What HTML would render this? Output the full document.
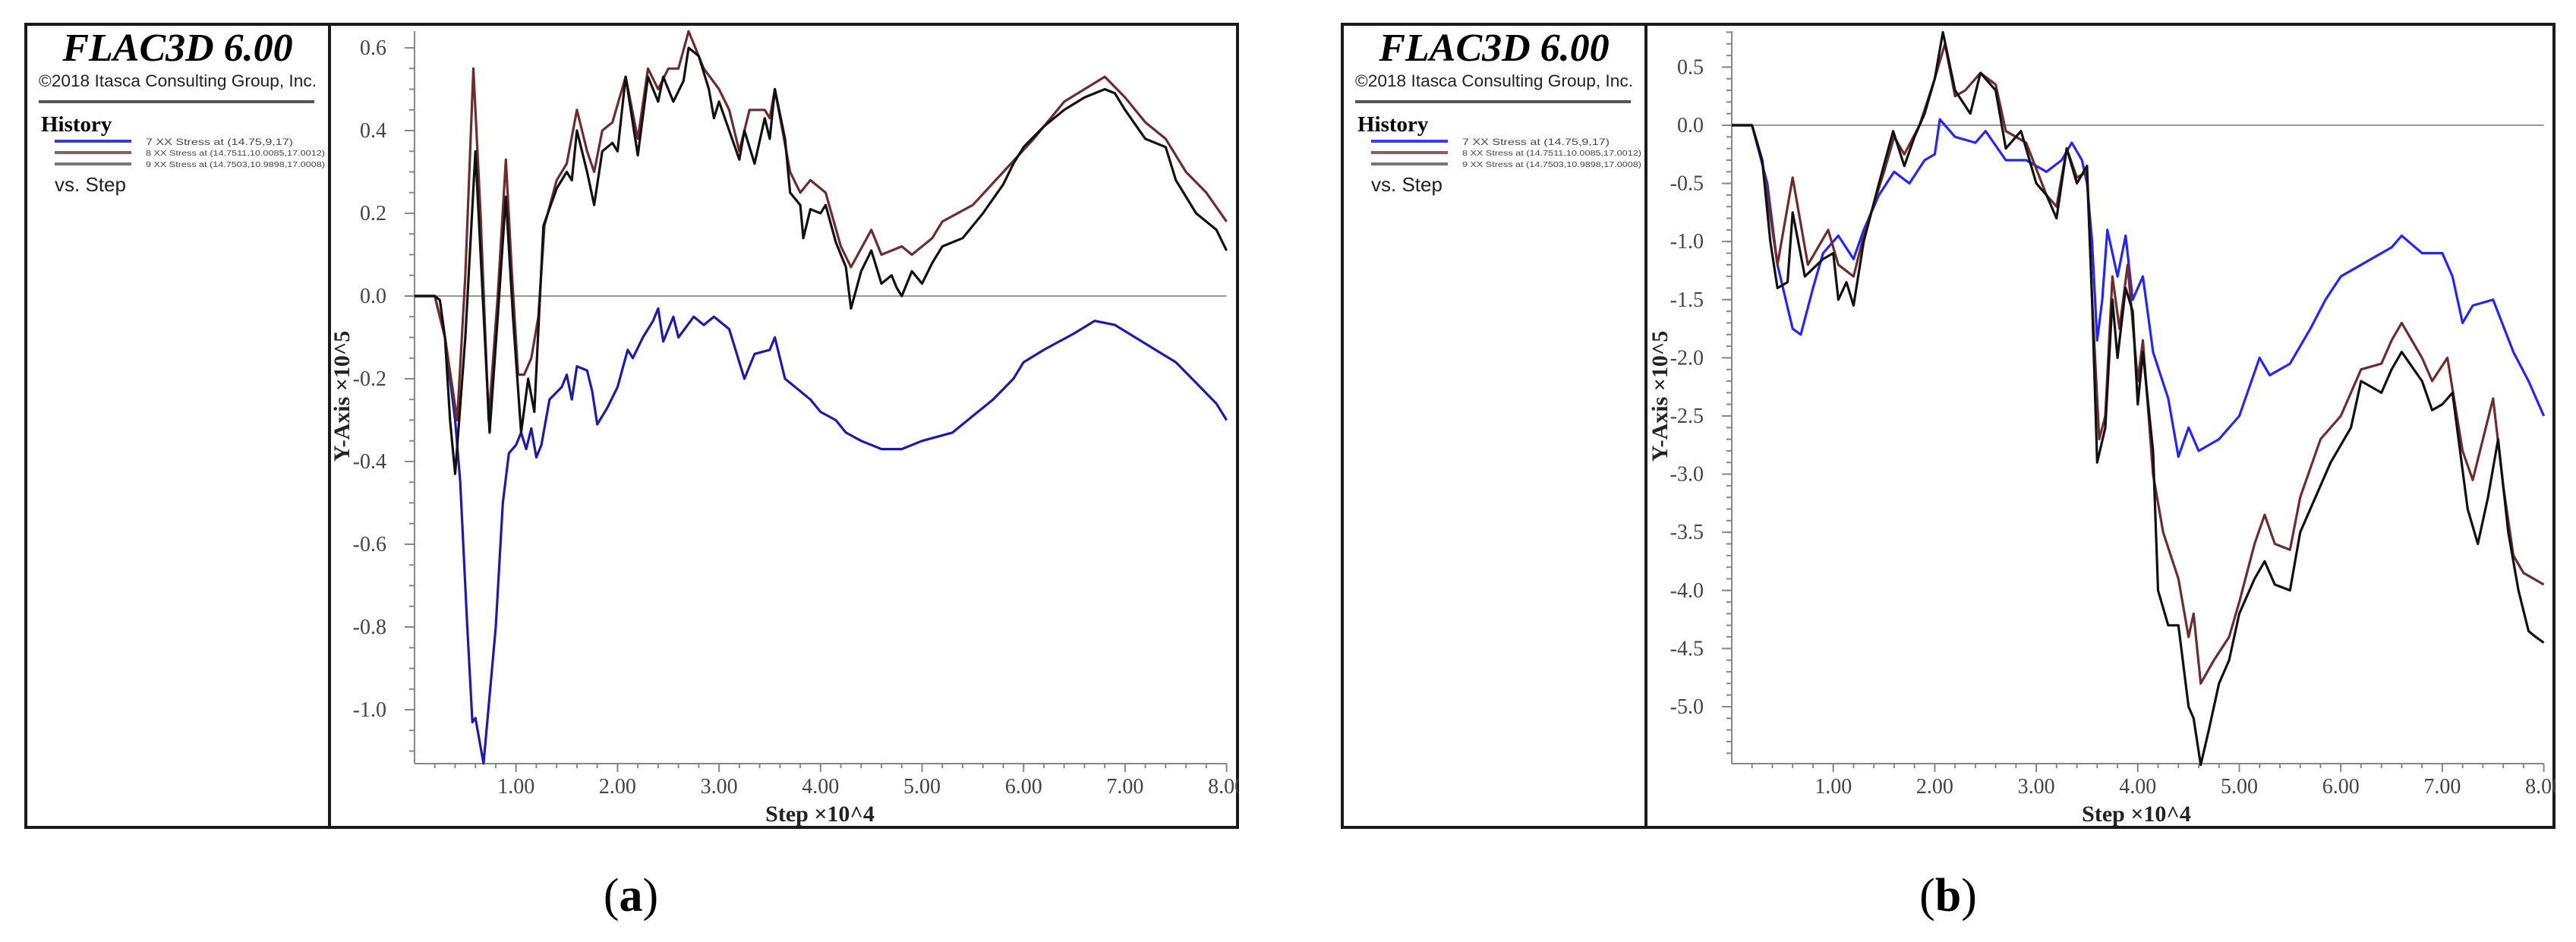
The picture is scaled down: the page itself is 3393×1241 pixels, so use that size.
<!DOCTYPE html>
<html><head><meta charset="utf-8"><style>
html,body{margin:0;padding:0;background:#fff;}
svg{display:block;}
text{font-family:"Liberation Serif",serif;}
.sans{font-family:"Liberation Sans",sans-serif;}
</style></head><body>
<svg id="fig" xmlns="http://www.w3.org/2000/svg" width="3393" height="1241" viewBox="0 0 3393 1241"></svg>
<script>
// ---------- Panel (a) data (Step x10^4, value x10^5) ----------
const aBlueSteps=[0,0.2,0.3,0.4,0.45,0.52,0.57,0.6,0.68,0.8,0.87,0.93,1.0,1.05,1.1,1.15,1.2,1.25,1.33,1.45,1.5,1.55,1.6,1.7,1.75,1.8,1.9,2.0,2.1,2.15,2.25,2.35,2.4,2.45,2.55,2.6,2.75,2.85,2.95,3.1,3.25,3.35,3.5,3.55,3.65,3.75,3.9,4.0,4.15,4.25,4.4,4.5,4.6,4.8,5.0,5.3,5.5,5.7,5.9,6.0,6.2,6.5,6.7,6.9,7.1,7.3,7.5,7.7,7.9,8.0];
const aBlueVals=[0,0,-0.1,-0.3,-0.45,-0.8,-1.03,-1.02,-1.13,-0.8,-0.5,-0.38,-0.36,-0.33,-0.37,-0.32,-0.39,-0.36,-0.25,-0.22,-0.19,-0.25,-0.17,-0.18,-0.23,-0.31,-0.27,-0.22,-0.13,-0.15,-0.1,-0.06,-0.03,-0.11,-0.05,-0.1,-0.05,-0.07,-0.05,-0.08,-0.2,-0.14,-0.13,-0.1,-0.2,-0.22,-0.25,-0.28,-0.3,-0.33,-0.35,-0.36,-0.37,-0.37,-0.35,-0.33,-0.29,-0.25,-0.2,-0.16,-0.13,-0.09,-0.06,-0.07,-0.1,-0.13,-0.16,-0.21,-0.26,-0.3];
const aBrownSteps=[0,0.2,0.3,0.42,0.5,0.58,0.65,0.73,0.82,0.9,0.96,1.02,1.08,1.15,1.22,1.28,1.4,1.5,1.6,1.7,1.77,1.85,1.95,2.08,2.2,2.3,2.4,2.5,2.6,2.7,2.85,3.0,3.1,3.2,3.3,3.45,3.5,3.55,3.7,3.8,3.9,4.05,4.2,4.3,4.5,4.6,4.8,4.9,5.1,5.2,5.5,5.8,6.1,6.4,6.6,6.8,7.0,7.2,7.4,7.6,7.8,8.0];
const aBrownVals=[0,0,-0.1,-0.3,0.05,0.55,0.2,-0.3,0.0,0.33,0.05,-0.19,-0.19,-0.15,-0.05,0.17,0.28,0.32,0.45,0.35,0.3,0.4,0.42,0.53,0.38,0.55,0.5,0.55,0.55,0.64,0.55,0.5,0.45,0.35,0.45,0.45,0.43,0.5,0.3,0.25,0.28,0.25,0.12,0.07,0.16,0.1,0.12,0.1,0.14,0.18,0.22,0.3,0.38,0.47,0.5,0.53,0.48,0.42,0.38,0.3,0.25,0.18];
const aBlackSteps=[0,0.2,0.25,0.3,0.35,0.4,0.5,0.6,0.74,0.82,0.9,0.97,1.05,1.12,1.18,1.27,1.4,1.5,1.55,1.6,1.7,1.77,1.85,1.95,2.0,2.08,2.2,2.3,2.4,2.45,2.55,2.65,2.7,2.8,2.9,2.95,3.0,3.1,3.2,3.25,3.35,3.45,3.5,3.55,3.65,3.7,3.8,3.83,3.9,4.0,4.05,4.15,4.25,4.3,4.4,4.5,4.6,4.7,4.75,4.8,4.9,5.0,5.1,5.2,5.4,5.6,5.8,5.9,6.0,6.2,6.4,6.6,6.8,6.9,7.0,7.2,7.4,7.5,7.7,7.9,8.0];
const aBlackVals=[0,0,-0.01,-0.1,-0.3,-0.43,-0.1,0.35,-0.33,-0.05,0.24,-0.05,-0.33,-0.2,-0.28,0.17,0.26,0.3,0.28,0.4,0.3,0.22,0.35,0.37,0.35,0.53,0.34,0.53,0.47,0.53,0.47,0.52,0.6,0.58,0.5,0.43,0.47,0.4,0.33,0.4,0.32,0.43,0.38,0.5,0.38,0.25,0.22,0.14,0.21,0.2,0.22,0.13,0.07,-0.03,0.06,0.11,0.03,0.05,0.02,0.0,0.06,0.03,0.08,0.12,0.14,0.2,0.27,0.32,0.36,0.41,0.45,0.48,0.5,0.49,0.45,0.38,0.36,0.28,0.2,0.16,0.11];
const aYTicks=[0.6,0.4,0.2,0.0,-0.2,-0.4,-0.6,-0.8,-1.0];
const aYLabels=["0.6","0.4","0.2","0.0","-0.2","-0.4","-0.6","-0.8","-1.0"];

// ---------- Panel (b) data ----------
const bBlueSteps=[0,0.2,0.35,0.45,0.6,0.68,0.8,0.9,1.05,1.2,1.3,1.45,1.6,1.75,1.9,2.0,2.05,2.2,2.4,2.5,2.7,2.9,3.1,3.25,3.35,3.45,3.5,3.55,3.6,3.65,3.7,3.8,3.88,3.95,4.05,4.15,4.3,4.4,4.5,4.6,4.8,5.0,5.2,5.3,5.5,5.7,5.85,6.0,6.3,6.5,6.6,6.8,7.0,7.1,7.2,7.3,7.5,7.7,7.85,8.0];
const bBlueVals=[0,0,-0.5,-1.2,-1.75,-1.8,-1.4,-1.1,-0.95,-1.15,-0.9,-0.6,-0.4,-0.5,-0.3,-0.25,0.05,-0.1,-0.15,-0.05,-0.3,-0.3,-0.4,-0.3,-0.15,-0.3,-0.5,-1.0,-1.85,-1.5,-0.9,-1.3,-0.95,-1.5,-1.3,-1.95,-2.35,-2.85,-2.6,-2.8,-2.7,-2.5,-2.0,-2.15,-2.05,-1.75,-1.5,-1.3,-1.15,-1.05,-0.95,-1.1,-1.1,-1.3,-1.7,-1.55,-1.5,-1.95,-2.2,-2.5];
const bBrownSteps=[0,0.2,0.3,0.45,0.6,0.75,0.95,1.05,1.2,1.3,1.5,1.6,1.7,1.85,2.0,2.1,2.2,2.3,2.45,2.6,2.7,2.9,3.1,3.2,3.3,3.4,3.5,3.55,3.62,3.68,3.75,3.82,3.9,4.0,4.05,4.15,4.25,4.4,4.5,4.55,4.62,4.75,4.9,5.0,5.15,5.25,5.35,5.5,5.6,5.8,6.0,6.2,6.4,6.5,6.6,6.8,6.9,7.05,7.2,7.3,7.4,7.5,7.6,7.7,7.8,8.0];
const bBrownVals=[0,0,-0.3,-1.2,-0.45,-1.2,-0.9,-1.2,-1.3,-0.95,-0.4,-0.1,-0.25,0.0,0.4,0.7,0.25,0.3,0.45,0.35,-0.05,-0.15,-0.6,-0.7,-0.2,-0.45,-0.4,-1.5,-2.7,-2.5,-1.3,-1.75,-1.2,-2.2,-1.85,-3.0,-3.5,-3.9,-4.4,-4.2,-4.8,-4.6,-4.4,-4.1,-3.6,-3.35,-3.6,-3.65,-3.2,-2.7,-2.5,-2.1,-2.05,-1.85,-1.7,-2.0,-2.2,-2.0,-2.8,-3.05,-2.7,-2.35,-3.1,-3.7,-3.85,-3.95];
const bBlackSteps=[0,0.2,0.3,0.38,0.45,0.55,0.6,0.72,0.9,1.0,1.05,1.13,1.2,1.3,1.45,1.59,1.7,1.8,1.9,2.0,2.08,2.2,2.35,2.45,2.6,2.7,2.85,3.0,3.1,3.2,3.3,3.4,3.5,3.55,3.6,3.68,3.75,3.8,3.88,3.95,4.0,4.05,4.15,4.2,4.3,4.4,4.5,4.55,4.62,4.7,4.8,4.9,5.0,5.15,5.25,5.35,5.5,5.6,5.75,5.9,6.1,6.2,6.4,6.5,6.6,6.8,6.9,7.0,7.1,7.25,7.35,7.45,7.55,7.65,7.75,7.85,7.92,8.0];
const bBlackVals=[0,0,-0.3,-1.0,-1.4,-1.35,-0.75,-1.3,-1.15,-1.1,-1.5,-1.35,-1.55,-1.0,-0.5,-0.05,-0.35,-0.1,0.1,0.4,0.8,0.3,0.1,0.45,0.3,-0.2,-0.05,-0.5,-0.6,-0.8,-0.2,-0.5,-0.35,-1.5,-2.9,-2.6,-1.5,-2.0,-1.4,-1.6,-2.4,-1.95,-2.8,-4.0,-4.3,-4.3,-5.0,-5.1,-5.5,-5.2,-4.8,-4.6,-4.2,-3.9,-3.75,-3.95,-4.0,-3.5,-3.2,-2.9,-2.6,-2.2,-2.3,-2.1,-1.95,-2.2,-2.45,-2.4,-2.3,-3.3,-3.6,-3.2,-2.7,-3.5,-4.0,-4.35,-4.4,-4.45];
const bYTicks=[0.5,0.0,-0.5,-1.0,-1.5,-2.0,-2.5,-3.0,-3.5,-4.0,-4.5,-5.0];
const bYLabels=["0.5","0.0","-0.5","-1.0","-1.5","-2.0","-2.5","-3.0","-3.5","-4.0","-4.5","-5.0"];

const xTicks=[1,2,3,4,5,6,7,8];
const xLabels=["1.00","2.00","3.00","4.00","5.00","6.00","7.00","8.00"];

const NS="http://www.w3.org/2000/svg";
const svg=document.getElementById('fig');
function mk(tag,attrs,parent,txt){const e=document.createElementNS(NS,tag);for(const k in attrs)e.setAttribute(k,attrs[k]);if(txt!==undefined)e.textContent=txt;(parent||svg).appendChild(e);return e;}

function panel(o){
  const g=mk('g',{});
  
  
  const L=o.left;
  // frame
  const fr=mk('rect',{x:L,y:32,width:1596,height:1058,fill:'none',stroke:'#1a1a1a','stroke-width':4},g);
  
  
  const dv=mk('line',{x1:L+400,y1:32,x2:L+400,y2:1090,stroke:'#1a1a1a','stroke-width':4},g);
  
  
  // header
  const t1=mk('text',{x:L+200,y:80,'font-size':52,'font-weight':'bold','font-style':'italic','text-anchor':'middle',fill:'#000'},g,'FLAC3D 6.00');
  
  
  const t2=mk('text',{x:L+200,y:114,'font-size':22,'text-anchor':'middle',fill:'#222',class:'sans',textLength:366,lengthAdjust:'spacingAndGlyphs'},g,'©2018 Itasca Consulting Group, Inc.');
  
  
  const hr=mk('line',{x1:L+17,y1:134,x2:L+380,y2:134,stroke:'#555','stroke-width':4},g);
  
  
  const th=mk('text',{x:L+20,y:173,'font-size':29,'font-weight':'bold',fill:'#000'},g,'History');
  
  
  const leg=[[o.blue,'7 XX Stress at (14.75,9,17)',186,12,'#8aa'],[ '#8a6060','8 XX Stress at (14.7511,10.0085,17.0012)',201,10],['#777','9 XX Stress at (14.7503,10.9898,17.0008)',216,10]];
  leg.forEach((l,i)=>{
    const lg=mk('g',{},g);
    
    
    mk('line',{x1:L+38,y1:l[2],x2:L+139,y2:l[2],stroke:i===0?o.legBlue:l[0],'stroke-width':4},lg);
    mk('text',{x:L+158,y:l[2]+(i===0?5:4),'font-size':l[3],fill:'#444',class:'sans',textLength:i===0?194:236,lengthAdjust:'spacingAndGlyphs'},lg,l[1]);
  });
  const vs=mk('text',{x:L+38,y:252,'font-size':26,fill:'#222',class:'sans'},g,'vs. Step');
  
  

  // axes
  const X0=o.x0, X1=o.x0+8*133.7, Y0=o.y0, YT=41, YB=1006;
  const xs=s=>X0+s*133.7;
  const ys=v=>Y0-v*o.ppu;
  const ax=mk('g',{},g);
  
  
  mk('line',{x1:X0,y1:YT,x2:X0,y2:YB,stroke:'#888','stroke-width':2},ax);
  mk('line',{x1:X0,y1:YB,x2:X1,y2:YB,stroke:'#888','stroke-width':2},ax);
  // y minor ticks
  const vTop=(Y0-YT)/o.ppu, vBot=-(YB-Y0)/o.ppu;
  for(let v=Math.floor(vTop/o.minor)*o.minor; v>=vBot; v-=o.minor){
    const y=ys(v); mk('line',{x1:X0-7,y1:y,x2:X0,y2:y,stroke:'#888','stroke-width':2},ax);
  }
  const yl=mk('g',{},g);
  
  
  o.yTicks.forEach((v,i)=>{
    const y=ys(v);
    mk('line',{x1:X0-13,y1:y,x2:X0,y2:y,stroke:'#888','stroke-width':2},ax);
    mk('text',{x:X0-37,y:y+9,'font-size':28,'text-anchor':'end',fill:'#444'},yl,o.yLabels[i]);
  });
  for(let s=0.2;s<8.01;s+=0.2){
    const x=xs(s); mk('line',{x1:x,y1:YB,x2:x,y2:YB+6,stroke:'#888','stroke-width':2},ax);
  }
  const xl=mk('g',{},g);
  
  
  xTicks.forEach((s,i)=>{
    const x=xs(s);
    mk('line',{x1:x,y1:YB,x2:x,y2:YB+11,stroke:'#888','stroke-width':2},ax);
    mk('text',{x:x,y:1045,'font-size':28,'text-anchor':'middle',fill:'#444'},xl,xLabels[i]);
  });
  // zero line
  const zl=mk('line',{x1:X0,y1:ys(0),x2:X1,y2:ys(0),stroke:'#999','stroke-width':2},g);
  
  
  // titles
  const xt=mk('text',{x:o.xTitleX,y:1082,'font-size':30,'font-weight':'bold','text-anchor':'middle',fill:'#222'},g,'Step ×10^4');
  
  
  const yt=mk('text',{x:0,y:0,'font-size':30,'font-weight':'bold','text-anchor':'middle',fill:'#222',transform:`translate(${o.yTitleX},522) rotate(-90)`},g,'Y-Axis ×10^5');
  
  
  // clip the white box overhang of "8.00"
  const cover=mk('rect',{x:L+1598,y:1010,width:30,height:60,fill:'#fff'},g);
  
  
  // series
  const series=[[o.blueS,o.blueV,o.blue,'series-7-blue'],[o.brS,o.brV,'#6e2d2d','series-8-brown'],[o.bkS,o.bkV,'#111','series-9-black']];
  series.forEach(sr=>{
    const pts=sr[0].map((s,i)=>xs(s).toFixed(1)+','+ys(sr[1][i]).toFixed(1)).join(' ');
    const pl=mk('polyline',{points:pts,fill:'none',stroke:sr[2],'stroke-width':3.2,'stroke-linejoin':'round'},g);
    
    
  });
  const cap=mk('text',{x:o.capX,y:1200,'font-size':62,'text-anchor':'middle',fill:'#000'},svg);
  
  
  mk('tspan',{},cap,'(');
  mk('tspan',{'font-weight':'bold'},cap,o.id);
  mk('tspan',{},cap,')');
}

panel({id:'a',left:34,x0:546,y0:390,ppu:545,minor:0.05,yTicks:aYTicks,yLabels:aYLabels,
  blue:'#1c1ca8',legBlue:'#3a3ac8',blueS:aBlueSteps,blueV:aBlueVals,brS:aBrownSteps,brV:aBrownVals,bkS:aBlackSteps,bkV:aBlackVals,
  xTitleX:1080,yTitleX:460,capX:831});
panel({id:'b',left:1768,x0:2281,y0:165,ppu:153.2,minor:0.1,yTicks:bYTicks,yLabels:bYLabels,
  blue:'#2525f5',legBlue:'#3a3af0',blueS:bBlueSteps,blueV:bBlueVals,brS:bBrownSteps,brV:bBrownVals,bkS:bBlackSteps,bkV:bBlackVals,
  xTitleX:2814,yTitleX:2196,capX:2566});
</script>
</body></html>
